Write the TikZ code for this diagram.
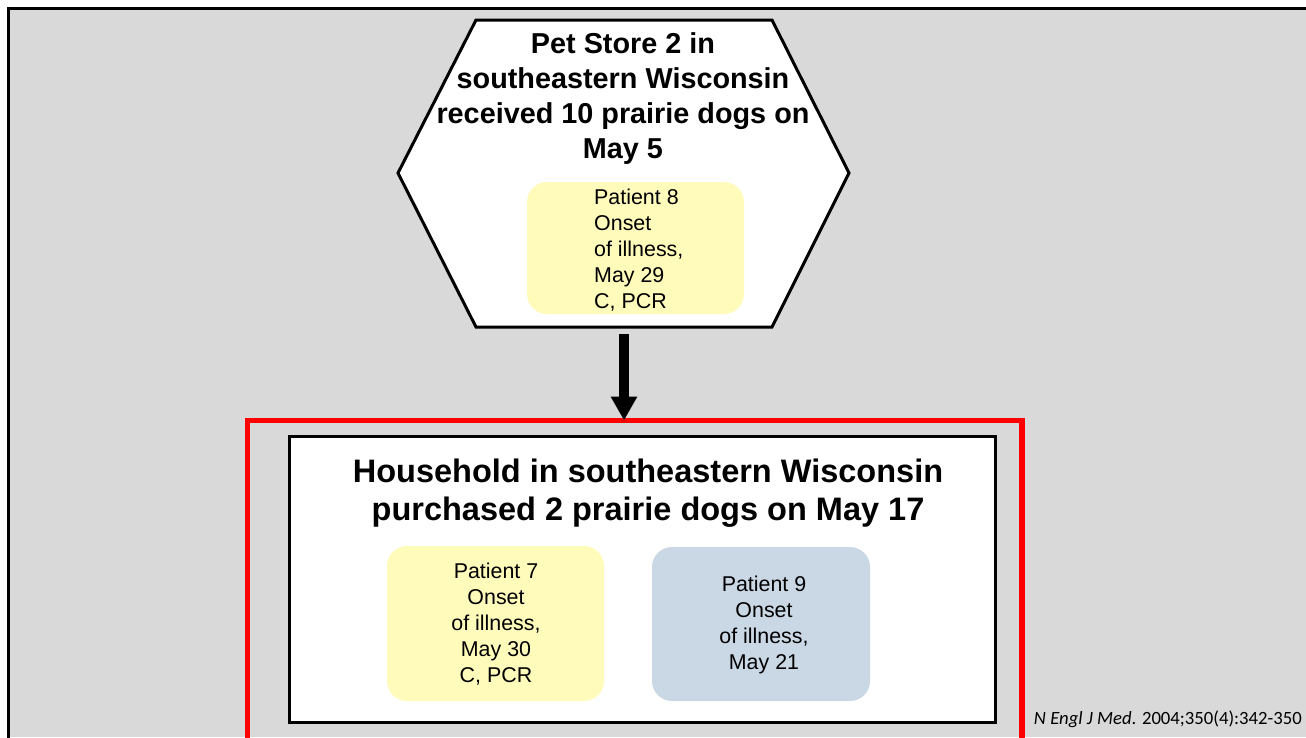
\documentclass[tikz,border=0pt]{standalone}
\usepackage{fontspec}
\setmainfont{Liberation Sans}
\newfontfamily\citefont{Carlito}
\usetikzlibrary{arrows.meta}
\definecolor{bggray}{HTML}{D9D9D9}
\definecolor{paleyellow}{HTML}{FFFBBB}
\definecolor{paleblue}{HTML}{CAD8E6}
\definecolor{redline}{HTML}{FF0000}
\tikzset{
  titletext/.style={font=\bfseries\fontsize{28.8}{35}\selectfont, align=center, inner sep=0},
  bigtitle/.style={font=\bfseries\fontsize{32.5}{38.5}\selectfont, align=center, inner sep=0},
  patienttext/.style={font=\fontsize{21.4}{26}\selectfont, inner sep=0},
  patientbox/.style={rounded corners=20pt, draw=none, outer sep=0, inner sep=0},
  hexframe/.style={draw=black, fill=white, line width=3pt, line join=miter},
  flowarrow/.style={line width=9.5pt, -{Triangle[width=25pt,length=24pt]}}
}
\begin{document}
\begin{tikzpicture}[x=1pt,y=-1pt]
\useasboundingbox (0,0) rectangle (1306,737);
% background
\fill[white] (0,0) rectangle (1306,737);
\fill[bggray] (8.5,8.5) rectangle (1306,737);
\draw[line width=3pt] (8.5,740) -- (8.5,8.5) -- (1306,8.5);
% hexagon
\coordinate (hexL) at (398,173);
\coordinate (hexR) at (849,173);
\coordinate (hexTL) at (476,20);
\coordinate (hexTR) at (772,20);
\coordinate (hexBL) at (476,327);
\coordinate (hexBR) at (772,327);
\coordinate (hexbottom) at (624,334);
\draw[hexframe] (hexL) -- (hexTL) -- (hexTR) -- (hexR) -- (hexBR) -- (hexBL) -- cycle;
\node[titletext] (storetitle) at (623,99) {Pet Store 2 in\\southeastern Wisconsin\\received 10 prairie dogs on\\May 5};
\node[patientbox, fill=paleyellow, minimum width=217pt, minimum height=132pt] (p8box) at (635.5,248) {};
\node[patienttext, align=left, anchor=west] (p8text) at (594,250) {Patient 8\\Onset\\of illness,\\May 29\\C, PCR};
% red box
\node[draw=redline, line width=5.5pt, outer sep=0, inner sep=0, minimum width=774.5pt, minimum height=340pt, anchor=north west] (redbox) at (247.5,420.5) {};
% arrow
\draw[flowarrow] (hexbottom) -- (redbox.north -| hexbottom);
% household box
\node[draw=black, fill=white, line width=3.5pt, outer sep=0, inner sep=0, minimum width=706pt, minimum height=286pt, anchor=north west] (housebox) at (289.5,436.5) {};
\node[bigtitle] (housetitle) at (648,493) {Household in southeastern Wisconsin\\purchased 2 prairie dogs on May 17};
\node[patientbox, fill=paleyellow, minimum width=217pt, minimum height=155pt] (p7box) at (495.5,623.5) {};
\node[patienttext, align=center] (p7text) at (496,624) {Patient 7\\Onset\\of illness,\\May 30\\C, PCR};
\node[patientbox, fill=paleblue, minimum width=218pt, minimum height=154pt] (p9box) at (761,624) {};
\node[patienttext, align=center] (p9text) at (764,625) {Patient 9\\Onset\\of illness,\\May 21};
% citation
\node[font=\citefont\fontsize{18.7}{22}\selectfont, anchor=base east, inner sep=0] (cite) at (1302,724) {\textit{N Engl J Med}. 2004;350(4):342-350};
\end{tikzpicture}
\end{document}
